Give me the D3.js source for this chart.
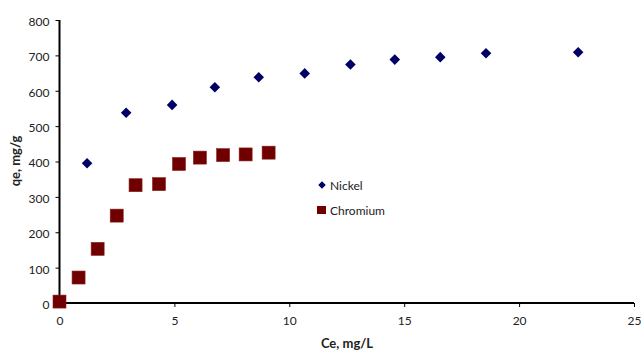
<!DOCTYPE html>
<html><head><meta charset="utf-8">
<script src="https://cdn.jsdelivr.net/npm/d3@7"></script>
<style>body{margin:0;background:#fff}svg{display:block;font-family:Lato,"Open Sans",sans-serif}</style>
</head><body><svg id="c" width="641" height="351"></svg>
<script>
const nickelCe = [1.2, 2.9, 4.9, 6.76, 8.67, 10.67, 12.66, 14.59, 16.57, 18.56, 22.57];
const nickelQe = [395, 538, 560, 610, 638, 649, 674, 688, 695, 706, 709];
const chromCe = [0, 0.83, 1.66, 2.49, 3.31, 4.33, 5.2, 6.11, 7.12, 8.1, 9.1];
const chromQe = [4, 72, 153, 247, 333, 336, 393, 411, 418, 420, 425];
const xTicks = [0, 5, 10, 15, 20, 25];
const yTicks = [0, 100, 200, 300, 400, 500, 600, 700, 800];
const seriesNames = ["Nickel", "Chromium"];

const svg = d3.select("#c");
const x = d3.scaleLinear().domain([0, 25]).range([59.5, 634]);
const y = d3.scaleLinear().domain([0, 800]).range([303, 20]);

const xAxis = svg.append("g").attr("transform", "translate(0,303)")
  .call(d3.axisBottom(x).tickValues(xTicks).tickSize(4).tickPadding(9).tickFormat(d3.format("d")));
const yAxis = svg.append("g").attr("transform", "translate(59.5,0)")
  .call(d3.axisLeft(y).tickValues(yTicks).tickSize(4).tickPadding(6).tickFormat(d3.format("d")));
[xAxis, yAxis].forEach(g => {
  g.select(".domain").attr("stroke", "#000").attr("stroke-width", 2);
  g.selectAll(".tick line").attr("stroke", "#000").attr("stroke-width", 1);
  g.selectAll(".tick text").attr("fill", "#222").style("font-size", "12px").style("font-family", "Lato, 'Open Sans', sans-serif");
});
yAxis.selectAll(".tick text").attr("dy", "0.45em");
xAxis.select(".domain").attr("d", "M59.5,0H634");
yAxis.select(".domain").attr("d", "M0,20V303");

const nickel = nickelCe.map((c, i) => ({c, q: nickelQe[i]}));
const chrom = chromCe.map((c, i) => ({c, q: chromQe[i]}));

svg.append("g").selectAll("rect").data(chrom).join("rect")
  .attr("x", d => x(d.c) - 6.5).attr("y", d => y(d.q) - 6.5)
  .attr("width", 13).attr("height", 13)
  .attr("fill", "#700000").attr("stroke", "#8a2020").attr("stroke-width", 0.6);
svg.append("g").selectAll("path").data(nickel).join("path")
  .attr("d", d3.symbol().type(d3.symbolSquare).size(56))
  .attr("transform", d => `translate(${x(d.c)},${y(d.q)}) rotate(45)`)
  .attr("fill", "#000066");

// legend
const lg = svg.append("g");
lg.append("path").attr("d", d3.symbol().type(d3.symbolSquare).size(28))
  .attr("transform", "translate(322,185) rotate(45)").attr("fill", "#000066");
lg.append("rect").attr("x", 317).attr("y", 206).attr("width", 9).attr("height", 8).attr("fill", "#700000");
lg.append("text").attr("x", 330).attr("y", 189.5).text(seriesNames[0]).attr("fill", "#222").style("font-size", "12px");
lg.append("text").attr("x", 330).attr("y", 214.5).text(seriesNames[1]).attr("fill", "#222").style("font-size", "12px");

svg.append("text").attr("x", 347).attr("y", 347.5).attr("text-anchor", "middle")
  .style("font-weight", "bold").style("font-size", "13px").attr("fill", "#222").text("Ce, mg/L");
svg.append("text").attr("transform", "translate(20,161) rotate(-90)").attr("text-anchor", "middle")
  .style("font-weight", "bold").style("font-size", "13px").attr("fill", "#222").text("qe, mg/g");
</script></body></html>
